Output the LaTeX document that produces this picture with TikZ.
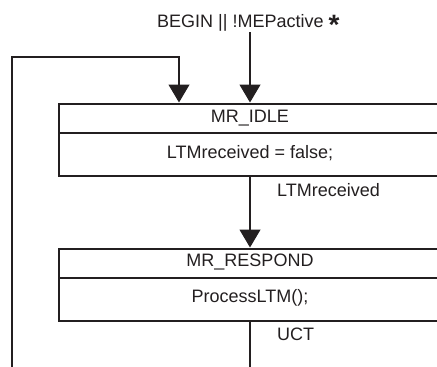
\documentclass[tikz,border=0pt]{standalone}
\usepackage{fontspec}
\setmainfont{Liberation Sans}
\usetikzlibrary{arrows.meta}
\definecolor{ink}{RGB}{35,31,32}
\begin{document}
\begin{tikzpicture}[x=1pt,y=-1pt,
  every node/.style={font=\fontsize{18}{21}\selectfont, text=ink, inner sep=0pt},
  statebox/.style={draw=ink, line width=2pt, anchor=north west, minimum width=420pt, minimum height=72pt},
  divider/.style={draw=ink, line width=2pt},
  conn/.style={draw=ink, line width=1.2pt},
  arr/.style={conn, -{Triangle[width=21pt,length=18pt]}, shorten >=0.5pt}]
\useasboundingbox (0,0) rectangle (437,367);
\clip (0,0) rectangle (437,367);
% states
\node[statebox] (idle) at (58,103) {};
\draw[divider] (58,133) -- (480,133);
\node (idlename) at (250,118) {MR\_IDLE};
\node (idleact) at (250,153.5) {LTMreceived = false;};
\node[statebox] (respond) at (58,248) {};
\draw[divider] (58,278) -- (480,278);
\node (respname) at (250,262.5) {MR\_RESPOND};
\node (respact) at (250,298) {ProcessLTM();};
% initial transition
\node[anchor=base west] (begin) at (157,27) {BEGIN || !MEPactive \raisebox{-7pt}{\fontsize{28}{28}\selectfont\bfseries *}};
\coordinate (c1) at (250,32);
\draw[arr] (c1) -- (c1 |- idle.north);
% loop back
\coordinate (loopbot) at (12,367);
\coordinate (loopcorner) at (12,57);
\coordinate (loopx) at (179,57);
\draw[arr] (loopbot) -- (loopcorner) -- (loopx) -- (loopx |- idle.north);
% idle -> respond
\draw[arr] (c1 |- idle.south) -- (c1 |- respond.north);
\node[anchor=west] (lbl1) at (277,190) {LTMreceived};
% respond -> out
\coordinate (outend) at (250,367);
\draw[conn] (c1 |- respond.south) -- (outend);
\node[anchor=west] (lbl2) at (277,334) {UCT};
\end{tikzpicture}
\end{document}
